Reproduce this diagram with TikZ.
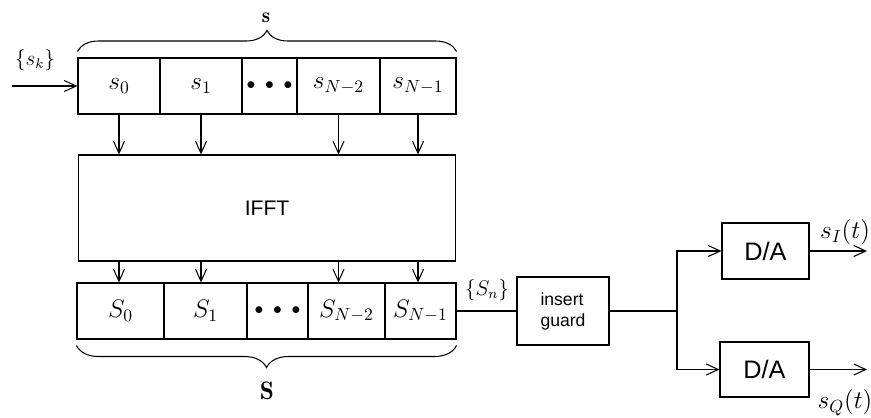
\documentclass[tikz,border=0pt]{standalone}
\usepackage{fontspec}
\setsansfont{Liberation Sans}
\usetikzlibrary{arrows.meta, positioning, calc, decorations.pathreplacing}
\tikzset{
  every picture/.style={line width=0.6pt},
  cell/.style={draw, minimum width=#1*0.02cm, minimum height=1.12cm, inner sep=0pt, font=\Large},
  block/.style={draw, align=left, inner sep=2pt, font=\sffamily},
  arrow/.style={-{Straight Barb[length=2.4mm, width=2.2mm]}},
  brace/.style={decorate, decoration={brace, amplitude=#1}},
  lbl/.style={inner sep=1pt, font=\large},
}
\newcommand{\cdotsbig}{{\normalsize$\bullet\mkern6mu\bullet\mkern6mu\bullet$}}

\begin{document}
\begin{tikzpicture}[x=0.02cm, y=-0.02cm]
  \useasboundingbox (0,0) rectangle (871,417);
  % top row: the symbols s_k
  \foreach \n/\x/\w/\l in {0/119/82/$s_0$, 1/201/82/$s_1$, d/269.5/55/\cdotsbig,
                           2/338.5/83/$s_{N-2}$, 3/418/76/$s_{N-1}$} {
    \node[cell=\w] (t\n) at (\x,86) {\l};
  }
  \draw[brace=0.42cm] ([yshift=3.4pt]t0.north west) -- ([yshift=3.4pt]t3.north east);
  \node[lbl] (vs) at (266,18) {$\mathbf{s}$};
  \node[lbl] (lsk) at (35,60) {$\{s_k\}$};
  \coordinate (in) at (12,86);
  \draw[arrow] (in) -- (t0.west);
  % the transform
  \node[block, minimum width=7.56cm, minimum height=2.12cm, font=\sffamily\large] (fft) at (267,208) {IFFT};
  % bottom row: the samples S_n
  \foreach \n/\x/\w/\l in {0/120.5/87/$S_0$, 1/205.5/83/$S_1$, d/277.5/61/\cdotsbig,
                           2/346.5/77/$S_{N-2}$, 3/420.5/71/$S_{N-1}$} {
    \node[cell=\w] (b\n) at (\x,311) {\l};
  }
  \draw[brace=0.44cm] ([yshift=-3.4pt]b3.south east) -- ([yshift=-3.4pt]b0.south west);
  \node[lbl, font=\Large] (vS) at (267,391) {$\mathbf{S}$};
  \foreach \n in {0,1,2,3} {
    \draw[arrow] (t\n.south) -- (t\n.south |- fft.north);
    \draw[arrow] (t\n.south |- fft.south) -- (t\n.south |- b\n.north);
  }
  % guard interval and the two converters
  \node[block, minimum width=1.84cm, minimum height=1.36cm] (ig) at (563,311) {insert\\guard};
  \node[lbl] (lSn) at (487,290) {$\{S_n\}$};
  \draw (b3.east) -- (ig.west);
  \coordinate (jn) at (677,311);
  \draw (ig.east) -- (jn);
  \node[block, minimum width=1.74cm, minimum height=1.12cm, font=\sffamily\Large] (da1) at (765.5,251) {D/A};
  \node[block, minimum width=1.78cm, minimum height=1.1cm, font=\sffamily\Large] (da2) at (764.5,369.5) {D/A};
  \draw[arrow] (jn) |- (da1.west);
  \draw[arrow] (jn) |- (da2.west);
  \coordinate (o1) at (867,251);
  \coordinate (o2) at (867,369.5);
  \draw[arrow] (da1.east) -- (o1);
  \draw[arrow] (da2.east) -- (o2);
  \node[lbl, font=\Large] (lsi) at (845,232) {$s_I(t)$};
  \node[lbl, font=\Large] (lsq) at (845,403) {$s_Q(t)$};
\end{tikzpicture}
\end{document}
